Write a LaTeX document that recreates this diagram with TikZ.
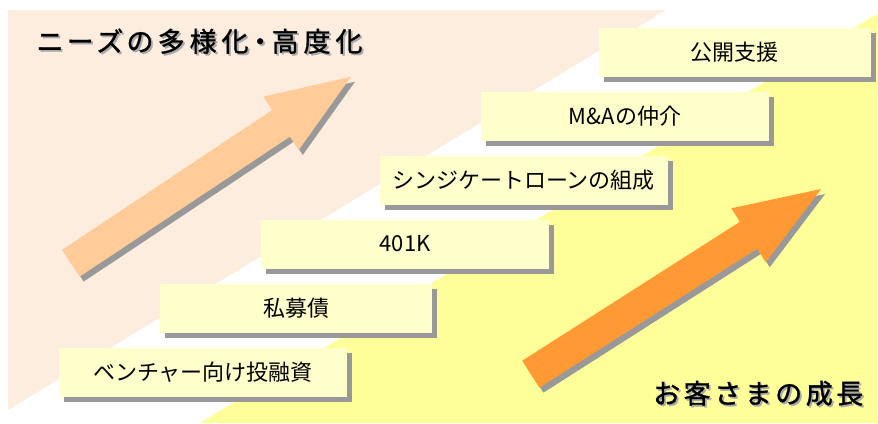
\documentclass[tikz,border=0pt]{standalone}
\usepackage{fontspec}
\setmainfont{Noto Sans CJK JP}
\newfontfamily\titlefont[LetterSpace=18, RawFeature=+palt, FakeBold=1.2]{Noto Sans CJK JP}
\newfontfamily\growthfont[LetterSpace=13, FakeBold=1.2]{Noto Sans CJK JP}
\usetikzlibrary{shadows}
\definecolor{peachbg}{HTML}{FDEDDF}
\definecolor{yellowbg}{HTML}{FFFF99}
\definecolor{boxfill}{HTML}{FFFFCC}
\definecolor{peacharrow}{HTML}{FFCC99}
\definecolor{orangearrow}{HTML}{FF9933}
\definecolor{shadowgray}{HTML}{999999}
\definecolor{txtshadow}{HTML}{AAAAAA}
\newcommand{\shtext}[1]{\makebox[0pt][l]{\hspace*{1.8pt}\raisebox{-1.8pt}{\color{txtshadow}#1}}#1}
% tail centre, angle, total length, head length, colour
\newcommand{\blkarrow}[5]{%
  \fill[shadowgray, shift={(#1)}, shift={(4,5)}, rotate=#2]
    (0,-16) -- ({#3-#4},-16) -- ({#3-#4},-32) -- (#3,0) -- ({#3-#4},32) -- ({#3-#4},16) -- (0,16) -- cycle;
  \fill[#5, shift={(#1)}, rotate=#2]
    (0,-16) -- ({#3-#4},-16) -- ({#3-#4},-32) -- (#3,0) -- ({#3-#4},32) -- ({#3-#4},16) -- (0,16) -- cycle;
}
\tikzset{
  stepbox/.style={rectangle, fill=boxfill, minimum height=49pt, inner sep=0pt,
    font=\fontsize{22pt}{26pt}\selectfont,
    drop shadow={shadow xshift=5pt, shadow yshift=-5pt, fill=shadowgray, opacity=1}},
  wide/.style={minimum width=288pt},
  narrow/.style={minimum width=272pt},
  titletext/.style={anchor=base west, inner sep=0pt}
}
\begin{document}
\begin{tikzpicture}[x=1pt, y=-1pt]
\useasboundingbox (0,0) rectangle (878,423);
\fill[white] (0,0) rectangle (878,423);
% backgrounds
\fill[peachbg] (8,10) -- (666,10) -- (8,410) -- cycle;
\fill[yellowbg] (877,14) -- (877,423) -- (200,423) -- cycle;
% arrows
\blkarrow{70.8,263.3}{33.66}{336.6}{84}{peacharrow}
\blkarrow{530.8,374.2}{32.54}{344.3}{86}{orangearrow}
% steps
\node[stepbox, narrow] (s6) at (734.5,52.5) {公開支援};
\node[stepbox, wide]   (s5) at (625,116)    {M\&Aの仲介};
\node[stepbox, wide]   (s4) at (523.5,180)  {シンジケートローンの組成};
\node[stepbox, wide]   (s3) at (405,244)    {401K};
\node[stepbox, narrow] (s2) at (296,308.5)  {私募債};
\node[stepbox, wide]   (s1) at (203,372.5)  {ベンチャー向け投融資};
% titles
\node[titletext, font=\titlefont\fontsize{27pt}{31pt}\selectfont] (needs) at (37,51.5) {\shtext{ニーズの多様化・高度化}};
\node[titletext, font=\growthfont\fontsize{27pt}{31pt}\selectfont] (growth) at (653,403.5) {\shtext{お客さまの成長}};
\end{tikzpicture}
\end{document}
